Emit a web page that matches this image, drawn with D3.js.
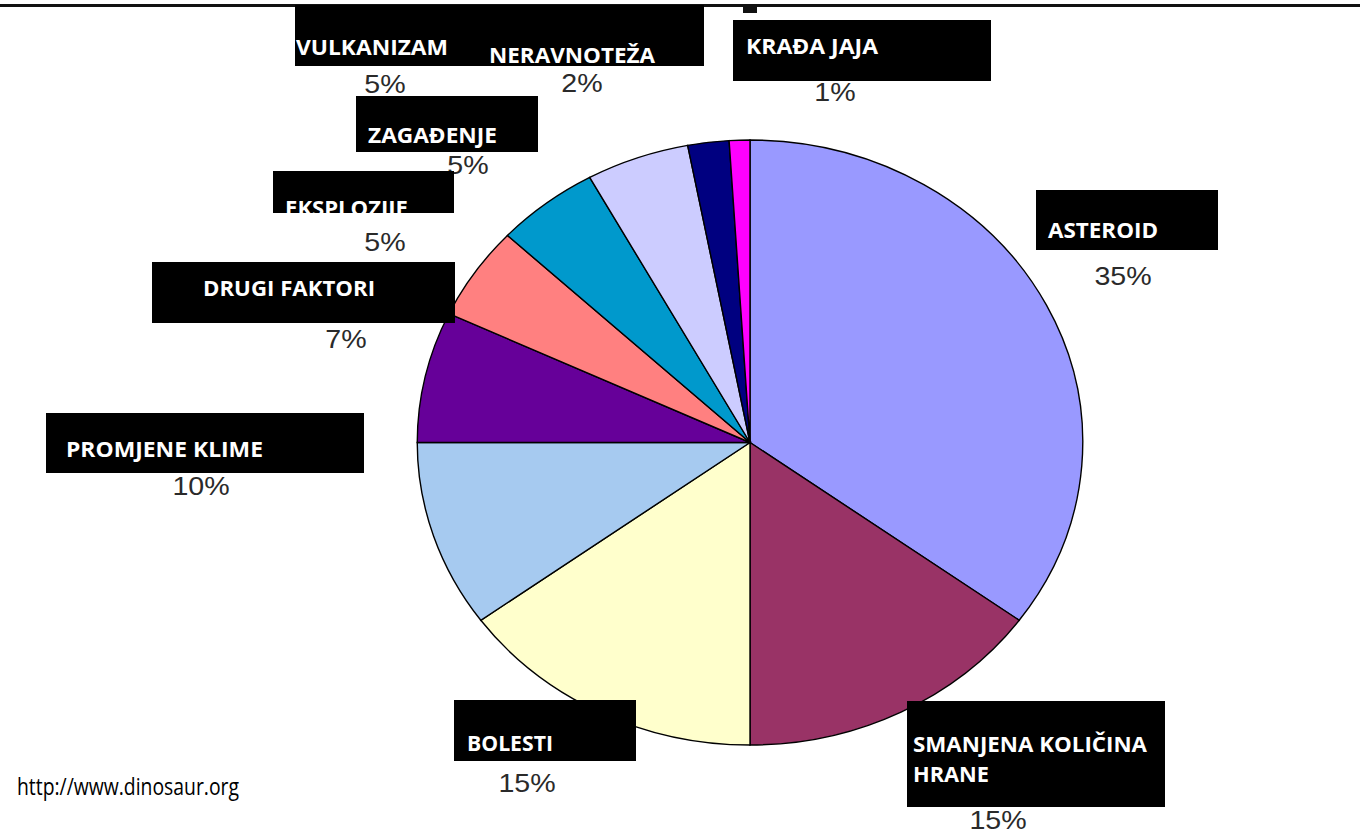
<!DOCTYPE html>
<html>
<head>
<meta charset="utf-8">
<script src="https://cdn.jsdelivr.net/npm/d3@7"></script>
<style>
  html, body { margin: 0; padding: 0; background: #fff; }
  svg { display: block; }
</style>
</head>
<body>
<svg id="chart" width="1360" height="836"></svg>
<script>
// ---- data ----
const categories = ["ASTEROID", "SMANJENA KOLIČINA HRANE", "BOLESTI", "PROMJENE KLIME", "DRUGI FAKTORI",
                    "EKSPLOZIJE", "ZAGAĐENJE", "VULKANIZAM", "NERAVNOTEŽA", "KRAĐA JAJA"];
const values = [35, 15, 15, 10, 7, 5, 5, 5, 2, 1];
const sourceText = "http://www.dinosaur.org";

// ---- styles ----
const colors = ["#9999FF", "#993366", "#FFFFCC", "#A6CAF0", "#660099",
                "#FF8080", "#0099CC", "#CCCCFF", "#000080", "#FF00FF"];

// ---- layout (screen positions of labels) ----
// box: [x0, y0, x1, y1]; lines: [[text, x, baseline, width]]; pct: [centerX, baseline]
const labelLayout = [
  { box: [1036, 190, 1218, 250], lines: [["ASTEROID", 1048, 238, 110]], pct: [1123, 285] },
  { box: [907, 701, 1165, 807], lines: [["SMANJENA KOLIČINA", 913, 752, 234], ["HRANE", 913, 782, 76]], pct: [998, 829] },
  { box: [454, 700, 636, 761], lines: [["BOLESTI", 467, 751, 86]], pct: [527, 792] },
  { box: [46, 413, 364, 473], lines: [["PROMJENE KLIME", 66, 457, 197]], pct: [201, 495] },
  { box: [152, 262, 455, 323], lines: [["DRUGI FAKTORI", 203, 296, 172]], pct: [346, 348] },
  { box: [273, 171, 454, 213], lines: [["EKSPLOZIJE", 285, 216, 123]], pct: [385, 251], clip: true },
  { box: [356, 96, 538, 152], lines: [["ZAGAĐENJE", 368, 143, 129]], pct: [468, 174] },
  { box: [295, 5, 487, 66], lines: [["VULKANIZAM", 296, 55, 152]], pct: [385, 93] },
  { box: [487, 5, 704, 66], lines: [["NERAVNOTEŽA", 489, 63, 166]], pct: [582, 92] },
  { box: [733, 20, 991, 81], lines: [["KRAĐA JAJA", 746, 54, 132]], pct: [835, 101] }
];

const cx = 750, cy = 442.5, ry = 302.5, stretchX = 1.1;

const svg = d3.select("#chart");

// top rule and mark
svg.append("rect").attr("x", 0).attr("y", 4).attr("width", 1360).attr("height", 3).attr("fill", "#111");
svg.append("rect").attr("x", 743).attr("y", 5).attr("width", 14).attr("height", 8).attr("fill", "#111");

// pie (horizontally stretched ellipse)
const pie = d3.pie().sort(null).value(d => d)(values);
const arc = d3.arc().innerRadius(0).outerRadius(ry);
const g = svg.append("g").attr("transform", `translate(${cx},${cy}) scale(${stretchX},1)`);
g.selectAll("path.slice")
  .data(pie)
  .join("path")
  .attr("class", "slice")
  .attr("d", arc)
  .attr("fill", (d, i) => colors[i])
  .attr("stroke", "#000")
  .attr("stroke-width", 1.4)
  .attr("vector-effect", "non-scaling-stroke");

// percentage labels (stretched, like the original)
const pctG = svg.append("g");
labelLayout.forEach((L, i) => {
  pctG.append("text")
    .attr("transform", `translate(${L.pct[0]},${L.pct[1]}) scale(${stretchX},1)`)
    .attr("text-anchor", "middle")
    .attr("font-family", "'Liberation Sans', Arial, sans-serif")
    .attr("font-size", 26)
    .attr("fill", "#2a2a2a")
    .text(values[i] + "%");
});

// black boxes with white bold labels
const defs = svg.append("defs");
const boxG = svg.append("g");
labelLayout.forEach((L, i) => {
  const [x0, y0, x1, y1] = L.box;
  boxG.append("rect")
    .attr("x", x0).attr("y", y0)
    .attr("width", x1 - x0).attr("height", y1 - y0)
    .attr("fill", "#000");
  let tg = boxG.append("g");
  if (L.clip) {
    const id = "clip" + i;
    defs.append("clipPath").attr("id", id)
      .append("rect").attr("x", x0).attr("y", y0).attr("width", x1 - x0).attr("height", y1 - y0);
    tg.attr("clip-path", `url(#${id})`);
  }
  L.lines.forEach(([t, x, y, w]) => {
    tg.append("text")
      .attr("x", x).attr("y", y)
      .attr("font-family", "'Open Sans', 'Noto Sans', sans-serif")
      .attr("font-weight", 700)
      .attr("font-size", 22)
      .attr("fill", "#fff")
      .attr("textLength", w)
      .attr("lengthAdjust", "spacingAndGlyphs")
      .text(t);
  });
});

// source
svg.append("text")
  .attr("x", 17).attr("y", 795)
  .attr("font-family", "'Open Sans', 'Noto Sans', sans-serif")
  .attr("font-size", 24)
  .attr("fill", "#000")
  .attr("textLength", 222)
  .attr("lengthAdjust", "spacingAndGlyphs")
  .text(sourceText);
</script>
</body>
</html>
